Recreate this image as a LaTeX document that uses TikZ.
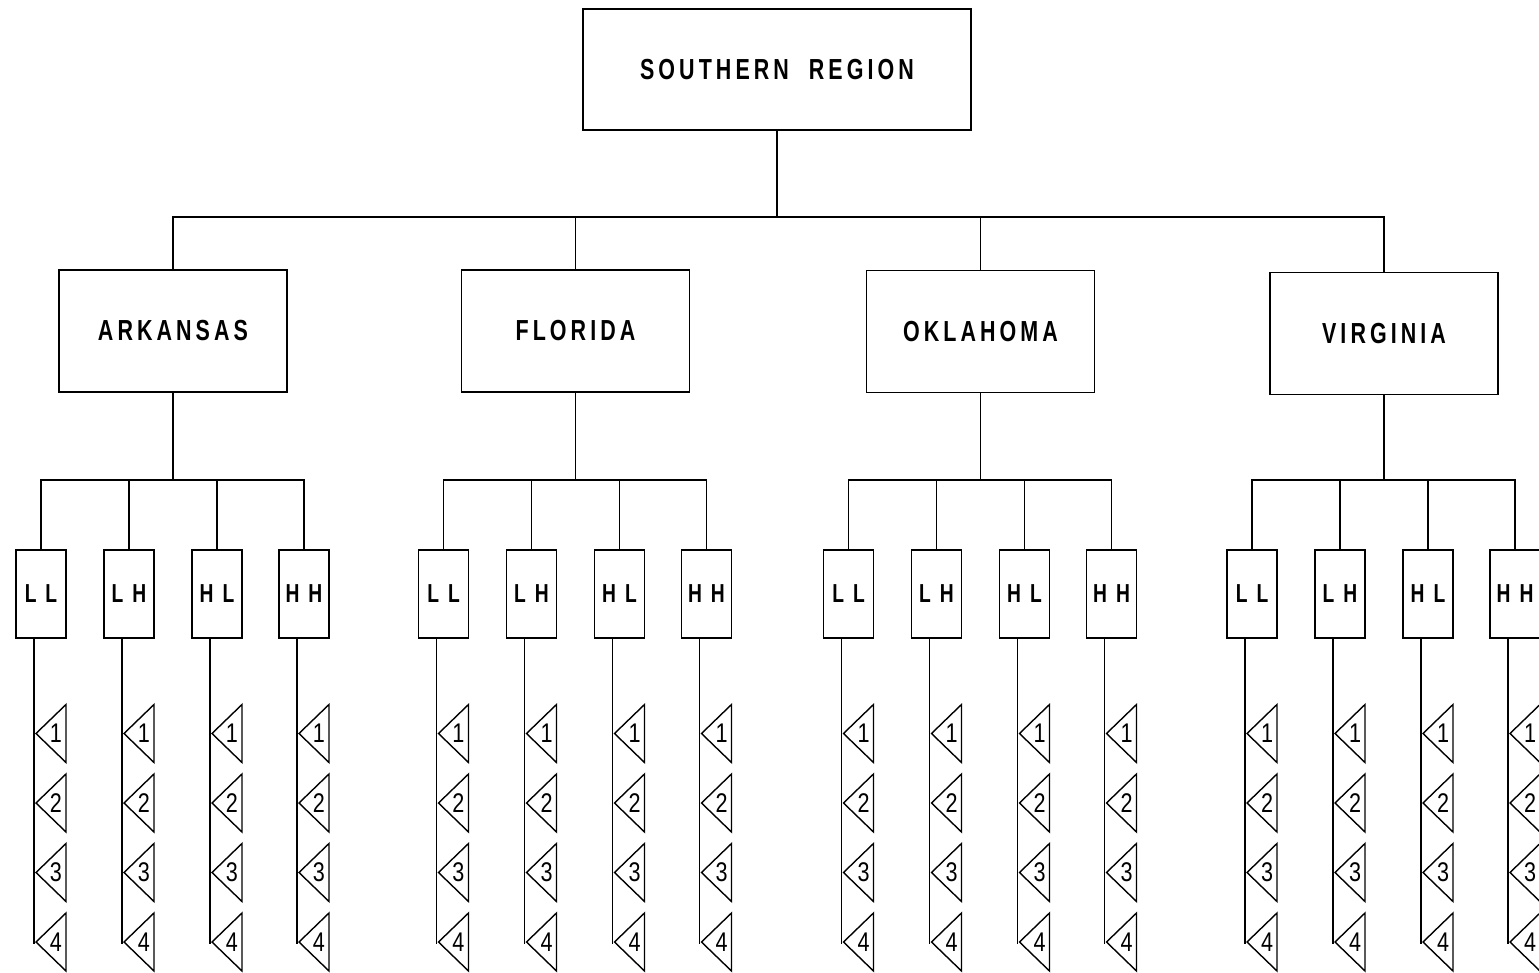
\documentclass[tikz,border=0pt]{standalone}
\usepackage{fontspec}
\newfontfamily\labfont[FakeStretch=0.74,LetterSpace=14]{Liberation Sans}
\newfontfamily\numfont[FakeStretch=0.8]{Liberation Sans}
\begin{document}
\begin{tikzpicture}[x=1pt,y=-1pt,line width=1.7pt,
  topbox/.style={draw,minimum width=388pt,minimum height=121pt,inner sep=0pt,font=\labfont\bfseries\fontsize{29}{30}\selectfont},
  statebox/.style={draw,minimum width=228pt,minimum height=122pt,inner sep=0pt,font=\labfont\bfseries\fontsize{29}{30}\selectfont},
  childbox/.style={draw,minimum width=50pt,minimum height=88pt,inner sep=0pt,font=\labfont\bfseries\fontsize{26}{28}\selectfont},
  flag/.style={draw,line width=1.4pt,line join=miter},
  num/.style={inner sep=0pt,font=\numfont\fontsize{27}{28}\selectfont}]
\useasboundingbox (0,0) rectangle (1539,972);
\node[topbox] (top) at (777,69.5) {SOUTHERN\hspace{20pt}REGION};
\foreach \n/\t/\x/\y in {ar/ARKANSAS/173/331, fl/FLORIDA/575.5/331, ok/OKLAHOMA/980.5/331.5, va/VIRGINIA/1384/333.5} {
  \node[statebox] (\n) at (\x,\y) {\t};
  \draw (top.south) -- ++(0,86) -| (\n.north);
  \foreach \i/\lab/\dx in {1/L L/-132, 2/L H/-44, 3/H L/44, 4/H H/131} {
    \pgfmathsetmacro\cx{\x+\dx}
    \node[childbox] (\n\i) at (\cx,594) {\lab};
    \draw (\n.south) |- ([yshift=69pt]\n\i.north) -- (\n\i.north);
    \coordinate (\n\i t) at ([xshift=-7pt]\n\i.south);
    \coordinate (\n\i e) at ([xshift=-7pt,yshift=-305pt]\n\i.south);
    \draw (\n\i t) -- (\n\i e);
    \foreach \k in {1,...,4} {
      \pgfmathsetmacro\ay{733.5+69.5*(\k-1)}
      \pgfmathsetmacro\lx{\cx-5}
      \pgfmathsetmacro\rx{\cx+25}
      \pgfmathsetmacro\nx{\cx+15}
      \draw[flag] (\lx,\ay) -- (\rx,\ay-29) -- (\rx,\ay+29) -- cycle;
      \node[num] (\n\i n\k) at (\nx,\ay) {\k};
    }
  }
}
\end{tikzpicture}
\end{document}
